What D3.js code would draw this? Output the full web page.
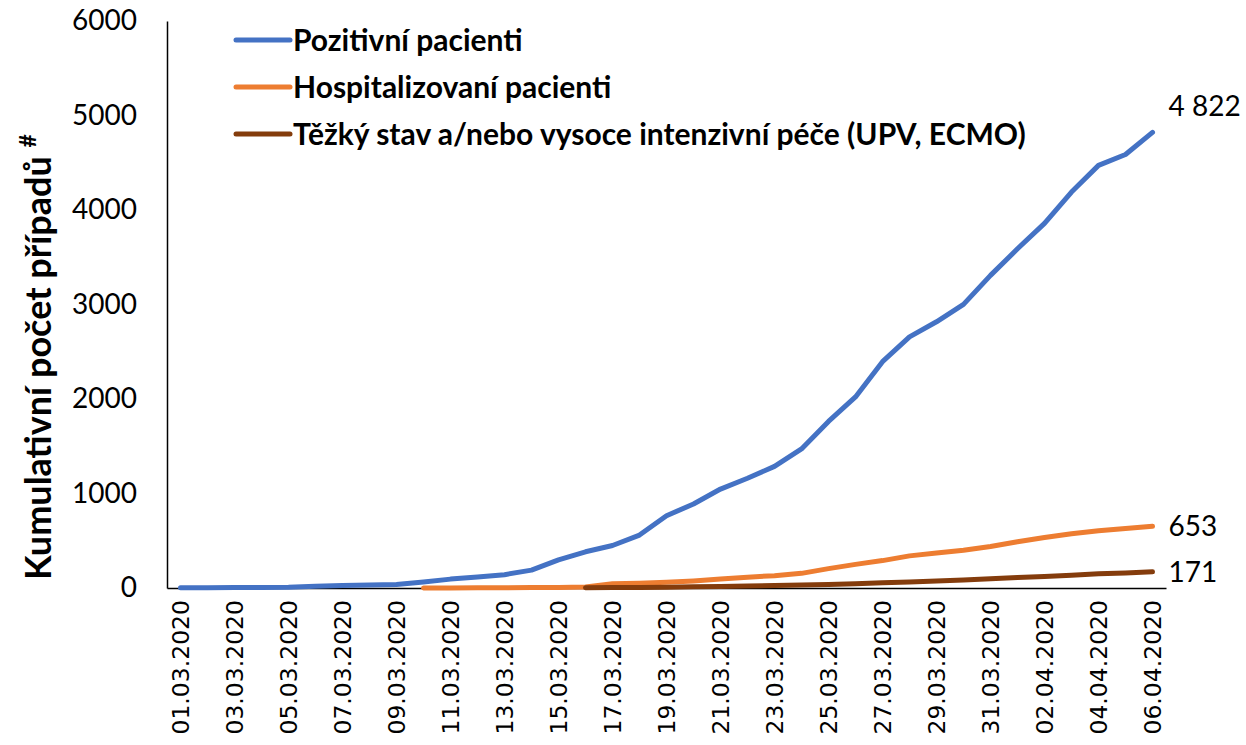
<!DOCTYPE html>
<html>
<head>
<meta charset="utf-8">
<script src="https://cdn.jsdelivr.net/npm/d3@7"></script>
<style>
  body { margin: 0; background: #fff; }
  svg { display: block; }
</style>
</head>
<body>
<svg id="chart" width="1246" height="745"></svg>
<script>
// dny (kategorie osy x)
const dates = ['01.03.2020','02.03.2020','03.03.2020','04.03.2020','05.03.2020','06.03.2020','07.03.2020',
  '08.03.2020','09.03.2020','10.03.2020','11.03.2020','12.03.2020','13.03.2020','14.03.2020','15.03.2020',
  '16.03.2020','17.03.2020','18.03.2020','19.03.2020','20.03.2020','21.03.2020','22.03.2020','23.03.2020',
  '24.03.2020','25.03.2020','26.03.2020','27.03.2020','28.03.2020','29.03.2020','30.03.2020','31.03.2020',
  '01.04.2020','02.04.2020','03.04.2020','04.04.2020','05.04.2020','06.04.2020'];

// pozitivní pacienti (od 01.03.)
const positive = [3,3,5,5,8,19,26,32,38,63,94,116,141,189,298,383,450,560,765,889,1047,1161,1287,
  1472,1763,2022,2395,2657,2817,3001,3308,3589,3858,4190,4472,4587,4822];
// hospitalizovaní pacienti (od 10.03.)
const hospital = [0,1,2,3,4,6,10,45,50,60,75,95,115,130,155,205,250,290,340,370,400,440,490,535,575,605,630,653];
// těžký stav (od 16.03.)
const severe = [2,4,6,9,13,17,21,26,31,38,46,55,64,74,85,98,110,122,136,150,160,171];

const yTicks = [0,1000,2000,3000,4000,5000,6000];
const names = ['Pozitivní pacienti','Hospitalizovaní pacienti','Těžký stav a/nebo vysoce intenzivní péče (UPV, ECMO)'];
const colors = ['#4472C4','#ED7D31','#843C0C'];
const endLabels = ['4 822','653','171'];

// sestavení řad
const series = [
  {vals: positive, start: 0},
  {vals: hospital, start: 9},
  {vals: severe, start: 15}
].map((s, k) => ({
  name: names[k],
  color: colors[k],
  label: endLabels[k],
  points: s.vals.map((v, i) => ({d: dates[s.start + i], v: v}))
}));

const svg = d3.select('#chart');
const mLeft = 167, mRight = 1166, mTop = 21, mBottom = 588;

const x = d3.scalePoint().domain(dates).range([mLeft, mRight]).padding(0.5);
const y = d3.scaleLinear().domain([0, 6000]).range([mBottom, mTop]);

// osa y
const yAxis = svg.append('g')
  .attr('transform', `translate(${mLeft},0)`)
  .call(d3.axisLeft(y).tickValues(yTicks).tickSize(0).tickPadding(30).tickFormat(d3.format('d')));
yAxis.select('.domain').attr('stroke', '#000').attr('stroke-width', 1.5);
yAxis.selectAll('text').attr('font-family', 'Lato, sans-serif').attr('font-size', 28).attr('fill', '#000');

// osa x
const xAxis = svg.append('g')
  .attr('transform', `translate(0,${mBottom})`)
  .call(d3.axisBottom(x).tickValues(dates.filter((d, i) => i % 2 === 0)).tickSize(0).tickSizeOuter(0));
xAxis.select('.domain').attr('stroke', '#000').attr('stroke-width', 1.5);
xAxis.selectAll('text')
  .attr('font-family', 'DejaVu Sans, sans-serif').attr('font-size', 23.5).attr('fill', '#000')
  .attr('transform', 'rotate(-90)')
  .attr('text-anchor', 'end')
  .attr('dy', '0.35em')
  .attr('x', -12)
  .attr('y', 0);

// popisek osy y
const title = svg.append('text')
  .attr('transform', 'translate(51,357) rotate(-90)')
  .attr('text-anchor', 'middle')
  .attr('font-family', 'Lato, sans-serif').attr('font-size', 36).attr('font-weight', 'bold');
title.append('tspan').text('Kumulativní počet případů ');
title.append('tspan').text('#').attr('font-size', 23).attr('dy', -15);

// čáry
const line = d3.line().x(p => x(p.d)).y(p => y(p.v));
svg.append('g').selectAll('path').data(series).join('path')
  .attr('d', s => line(s.points))
  .attr('fill', 'none')
  .attr('stroke', s => s.color)
  .attr('stroke-width', 5)
  .attr('stroke-linecap', 'round')
  .attr('stroke-linejoin', 'round');

// popisky na konci
svg.append('g').selectAll('text').data(series).join('text')
  .attr('x', s => x(s.points[s.points.length - 1].d) + 16)
  .attr('y', (s, k) => y(s.points[s.points.length - 1].v) + (k === 0 ? -26 : 0))
  .attr('dy', '0.35em')
  .attr('font-family', 'Lato, sans-serif').attr('font-size', 28)
  .text(s => s.label);

// legenda
const leg = svg.append('g').selectAll('g').data(series).join('g')
  .attr('transform', (s, k) => `translate(236,${40 + k * 47})`);
leg.append('line')
  .attr('x1', 0).attr('x2', 54)
  .attr('stroke', s => s.color).attr('stroke-width', 5).attr('stroke-linecap', 'round');
leg.append('text')
  .attr('x', 57).attr('dy', '0.35em')
  .attr('font-family', 'Lato, sans-serif').attr('font-size', 30).attr('font-weight', 'bold')
  .text(s => s.name);
</script>
</body>
</html>
